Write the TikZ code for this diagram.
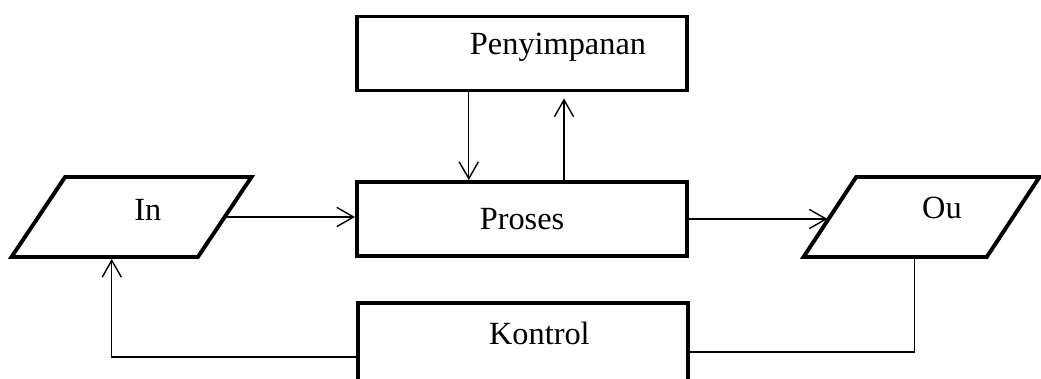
\documentclass[tikz,border=0pt]{standalone}
\usepackage{fontspec}
\setmainfont{Liberation Serif}
\usetikzlibrary{arrows.meta,shapes.geometric}

\begin{document}
\begin{tikzpicture}[
    x=0.025cm, y=-0.025cm,
    every node/.style={font=\fontsize{23}{27}\selectfont},
    box/.style={rectangle, draw, line width=2.8pt, minimum width=8.25cm,
                minimum height=1.85cm, inner sep=0pt},
    io/.style={trapezium, trapezium left angle=68, trapezium right angle=112,
               trapezium stretches=true, draw, line width=2.8pt,
               minimum height=2.0cm, inner sep=2pt},
    e/.style={line width=1pt, -{Straight Barb[length=4.2mm, width=4.8mm]}},
    ln/.style={line width=1pt},
  ]
  \useasboundingbox (0,0) rectangle (1041,379);
  \clip (0,0) rectangle (1041,379);
  \node[box, label={[shift={(0.9cm,0.16cm)}]center:Penyimpanan}] (store) at (522,53.5) {};
  \node[box] (proc) at (522,219) {Proses};
  \node[box, minimum height=2.3cm, label={[shift={(0.41cm,0.4cm)}]center:Kontrol}] (ctrl) at (523,349) {};
  \node[io, minimum width=6cm, label={[shift={(0.41cm,0.17cm)}]center:In}] (in) at (131.5,217) {};
  \node[io, minimum width=5.9cm, label={[shift={(0.51cm,0.22cm)}]center:Ou}] (out) at (921.5,217) {};
  \draw[e] ([xshift=-1.33cm]store.south) -- ([xshift=-1.33cm]store.south |- proc.north);
  \draw[e, shorten >=0.15cm] ([xshift=1.05cm]proc.north) -- ([xshift=1.05cm]proc.north |- store.south);
  \draw[e] (in.east) -- (in.east -| proc.west);
  \draw[e] (proc.east) -- (proc.east -| out.west);
  \draw[e] ([yshift=-0.2cm]ctrl.west) -| ([xshift=0.21cm]in.bottom side);
  \draw[ln] ([xshift=0.51cm]out.bottom side) |- ([yshift=-0.08cm]ctrl.east);
\end{tikzpicture}
\end{document}
